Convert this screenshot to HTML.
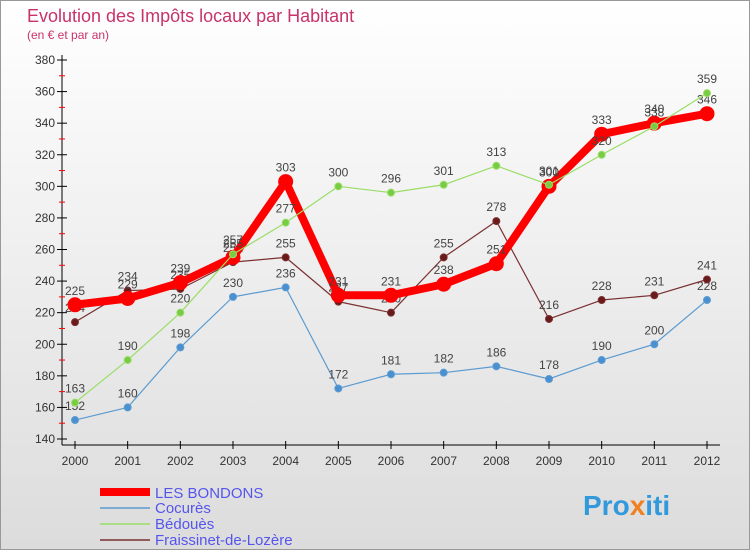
<!DOCTYPE html>
<html><head><meta charset="utf-8"><style>
body{margin:0;background:#fff}
svg{display:block;font-family:"Liberation Sans",sans-serif}
</style></head><body>
<svg id="c" width="750" height="550" xmlns="http://www.w3.org/2000/svg">
<defs><linearGradient id="bg" x1="0" y1="0" x2="0" y2="1"><stop offset="0" stop-color="#ffffff"/><stop offset="1" stop-color="#dcdcdc"/></linearGradient></defs>
<rect x="0.5" y="0.5" width="749" height="549" fill="url(#bg)" stroke="#999"/>
<text x="27" y="22" font-size="18" fill="#c8336a">Evolution des Impôts locaux par Habitant</text>
<text x="27" y="39" font-size="12" fill="#c8336a">(en € et par an)</text>
<g id="axes"></g><g id="series"></g>
<g>
<line x1="100" y1="492" x2="150" y2="492" stroke="#f00" stroke-width="8"/>
<text x="155" y="498" font-size="15" fill="#5555ee">LES BONDONS</text>
<line x1="100" y1="508" x2="150" y2="508" stroke="#5b9bd0" stroke-width="1.5"/>
<text x="155" y="513" font-size="15" fill="#5555ee">Cocurès</text>
<line x1="100" y1="524" x2="150" y2="524" stroke="#99dd66" stroke-width="1.5"/>
<text x="155" y="529" font-size="15" fill="#5555ee">Bédouès</text>
<line x1="100" y1="540" x2="150" y2="540" stroke="#7a3030" stroke-width="1.5"/>
<text x="155" y="545" font-size="15" fill="#5555ee">Fraissinet-de-Lozère</text>
</g>
<text x="583" y="515" font-size="28" font-weight="bold" fill="#3399dd">Pro<tspan fill="#f08020">x</tspan>iti</text>
</svg>
<script>
const years=[2000,2001,2002,2003,2004,2005,2006,2007,2008,2009,2010,2011,2012];
const yTicks=[140,160,180,200,220,240,260,280,300,320,340,360,380];
const bondons=[225,229,239,255,303,231,231,238,251,300,333,340,346];
const cocures=[152,160,198,230,236,172,181,182,186,178,190,200,228];
const bedoues=[163,190,220,257,277,300,296,301,313,301,320,338,359];
const fraissinet=[214,234,235,252,255,227,220,255,278,216,228,231,241];
const NS="http://www.w3.org/2000/svg";
const xs=i=>75+i*(707-75)/(years.length-1);
const ys=v=>439-(v-140)*(439-60)/240;
function mk(t,a,p){const e=document.createElementNS(NS,t);for(const k in a)e.setAttribute(k,a[k]);p.appendChild(e);return e;}
const ax=document.getElementById('axes');
const yl=mk('line',{x1:62,y1:55,x2:62,y2:445,stroke:'#000'},ax);


const xl=mk('line',{x1:62,y1:445,x2:720,y2:445,stroke:'#000'},ax);


yTicks.forEach((v,i)=>{
  mk('line',{x1:57,y1:ys(v),x2:67,y2:ys(v),stroke:'#000'},ax);
  if(i<yTicks.length-1) mk('line',{x1:59,y1:ys(v+10),x2:65,y2:ys(v+10),stroke:'#f00'},ax);
  const t=mk('text',{x:55,y:ys(v)+4,'font-size':12,'text-anchor':'end',fill:'#333'},ax);
  t.textContent=v;
  
  
});
years.forEach((y,i)=>{
  mk('line',{x1:xs(i),y1:441,x2:xs(i),y2:449,stroke:'#000'},ax);
  const t=mk('text',{x:xs(i),y:465,'font-size':12,'text-anchor':'middle',fill:'#333'},ax);
  t.textContent=y;
  
  
});
const sg=document.getElementById('series');
function draw(vals,name,color,w,r,dot){
  const g=mk('g',{},sg);
  
  
  mk('polyline',{points:vals.map((v,i)=>xs(i)+','+ys(v)).join(' '),fill:'none',stroke:color,'stroke-width':w,'stroke-linejoin':'round'},g);
  vals.forEach((v,i)=>{
    const c=mk('circle',{cx:xs(i),cy:ys(v),r:r,fill:dot,stroke:color,'stroke-width':1},g);
    
    
    const t=mk('text',{x:xs(i),y:ys(v)-10,'font-size':12,'text-anchor':'middle',fill:'#444'},g);
    t.textContent=v;
    
    
  });
}
draw(cocures,'cocures','#5b9bd0',1.2,3.5,'#4a90d0');
draw(fraissinet,'fraissinet','#7a3030',1.2,3.5,'#6a1a1a');
draw(bondons,'les-bondons','#f00',8,7,'#f00');
draw(bedoues,'bedoues','#99dd66',1.2,3.5,'#77cc44');
</script>
</body></html>
